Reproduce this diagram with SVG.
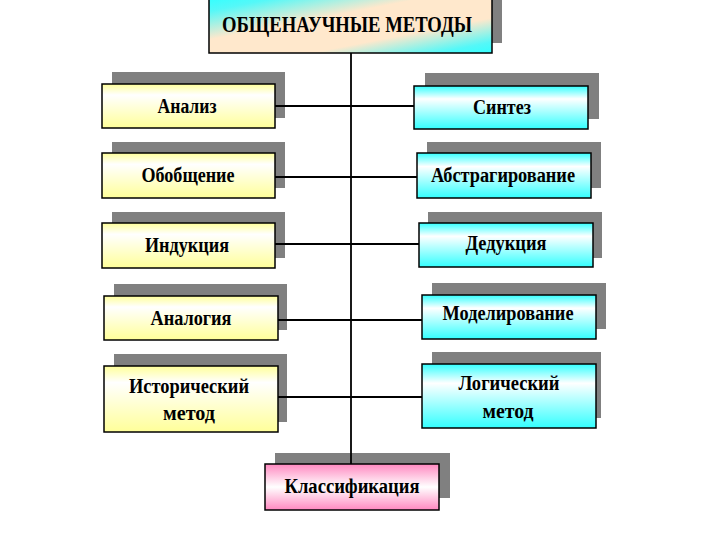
<svg xmlns="http://www.w3.org/2000/svg" width="720" height="540" viewBox="0 0 720 540">
<style>
.sh{fill:#808080}
.bx{stroke:#000;stroke-width:1.5}
.y{fill:url(#gy)}
.c{fill:url(#gc)}
.t{font-family:"Liberation Serif","Times New Roman",serif;font-weight:bold;font-size:20px;fill:#000;text-anchor:middle}
.ln{stroke:#000;stroke-width:1.8;fill:none}
</style>
<defs>
<linearGradient id="gy" x1="0" y1="0" x2="0" y2="1">
<stop offset="0" stop-color="#ffff99"/><stop offset="0.25" stop-color="#ffffff"/><stop offset="1" stop-color="#ffff99"/>
</linearGradient>
<linearGradient id="gc" x1="0" y1="0" x2="0" y2="1">
<stop offset="0" stop-color="#33ffff"/><stop offset="0.3" stop-color="#ffffff"/><stop offset="1" stop-color="#33ffff"/>
</linearGradient>
<linearGradient id="gp" x1="0" y1="0" x2="0" y2="1">
<stop offset="0" stop-color="#ff88c0"/><stop offset="0.5" stop-color="#ffffff"/><stop offset="1" stop-color="#ff88c0"/>
</linearGradient>
<linearGradient id="gt" x1="0" y1="0" x2="1" y2="1">
<stop offset="0" stop-color="#33ffff"/><stop offset="0.12" stop-color="#55f8f8"/><stop offset="0.38" stop-color="#ffe8cc"/><stop offset="0.68" stop-color="#ffe8cc"/><stop offset="0.9" stop-color="#55f8f8"/><stop offset="1" stop-color="#33ffff"/>
</linearGradient>
</defs>

<g id="title">
<rect class="sh" x="219" y="0" width="283" height="43"/>
<rect class="bx" x="209" y="-2" width="283" height="55" fill="url(#gt)"/>
<text class="t" x="347" y="32" style="font-size:24px" textLength="250" lengthAdjust="spacingAndGlyphs">ОБЩЕНАУЧНЫЕ МЕТОДЫ</text>
</g>

<g id="analiz">
<rect class="sh" x="112" y="72" width="173" height="46"/>
<rect class="bx y" x="102" y="84" width="173" height="44"/>
<text class="t" x="187" y="113" textLength="59" lengthAdjust="spacingAndGlyphs">Анализ</text>
</g>
<g id="obobshchenie">
<rect class="sh" x="112" y="142" width="173" height="46"/>
<rect class="bx y" x="102" y="153" width="173" height="45"/>
<text class="t" x="188" y="182" textLength="93" lengthAdjust="spacingAndGlyphs">Обобщение</text>
</g>
<g id="induktsiya">
<rect class="sh" x="112" y="212" width="173" height="46"/>
<rect class="bx y" x="102" y="223" width="173" height="45"/>
<text class="t" x="187" y="252" textLength="84" lengthAdjust="spacingAndGlyphs">Индукция</text>
</g>
<g id="analogiya">
<rect class="sh" x="114" y="284" width="173" height="46"/>
<rect class="bx y" x="104" y="296" width="174" height="44"/>
<text class="t" x="191" y="325" textLength="81" lengthAdjust="spacingAndGlyphs">Аналогия</text>
</g>
<g id="istoricheskiy">
<rect class="sh" x="114" y="354" width="173" height="68"/>
<rect class="bx y" x="104" y="366" width="174" height="66"/>
<text class="t" x="189" y="393" textLength="120" lengthAdjust="spacingAndGlyphs">Исторический</text>
<text class="t" x="189" y="420" textLength="52" lengthAdjust="spacingAndGlyphs">метод</text>
</g>

<g id="sintez">
<rect class="sh" x="425" y="73" width="174" height="46"/>
<rect class="bx c" x="414" y="86" width="174" height="43"/>
<text class="t" x="502" y="114" textLength="58" lengthAdjust="spacingAndGlyphs">Синтез</text>
</g>
<g id="abstragirovanie">
<rect class="sh" x="427" y="142" width="174" height="46"/>
<rect class="bx c" x="417" y="153" width="174" height="45"/>
<text class="t" x="503" y="182" textLength="144" lengthAdjust="spacingAndGlyphs">Абстрагирование</text>
</g>
<g id="deduktsiya">
<rect class="sh" x="428" y="212" width="174" height="46"/>
<rect class="bx c" x="419" y="223" width="174" height="44"/>
<text class="t" x="506" y="250" textLength="81" lengthAdjust="spacingAndGlyphs">Дедукция</text>
</g>
<g id="modelirovanie">
<rect class="sh" x="432" y="283" width="174" height="46"/>
<rect class="bx c" x="422" y="295" width="174" height="44"/>
<text class="t" x="508" y="320" textLength="131" lengthAdjust="spacingAndGlyphs">Моделирование</text>
</g>
<g id="logicheskiy">
<rect class="sh" x="432" y="352" width="169" height="66"/>
<rect class="bx c" x="422" y="364" width="174" height="64"/>
<text class="t" x="509" y="390" textLength="101" lengthAdjust="spacingAndGlyphs">Логический</text>
<text class="t" x="508" y="418" textLength="51" lengthAdjust="spacingAndGlyphs">метод</text>
</g>

<g id="klassifikatsiya">
<rect class="sh" x="275" y="453" width="175" height="45"/>
<rect class="bx" x="265" y="464" width="174" height="46" fill="url(#gp)"/>
<text class="t" x="352" y="493" textLength="135" lengthAdjust="spacingAndGlyphs">Классификация</text>
</g>

<g id="connectors">
<line class="ln" x1="351" y1="53" x2="351" y2="464"/>
<line class="ln" x1="275" y1="106" x2="414" y2="106"/>
<line class="ln" x1="275" y1="177" x2="417" y2="177"/>
<line class="ln" x1="275" y1="244" x2="419" y2="244"/>
<line class="ln" x1="278" y1="320" x2="422" y2="320"/>
<line class="ln" x1="278" y1="397" x2="422" y2="397"/>
</g>
</svg>
